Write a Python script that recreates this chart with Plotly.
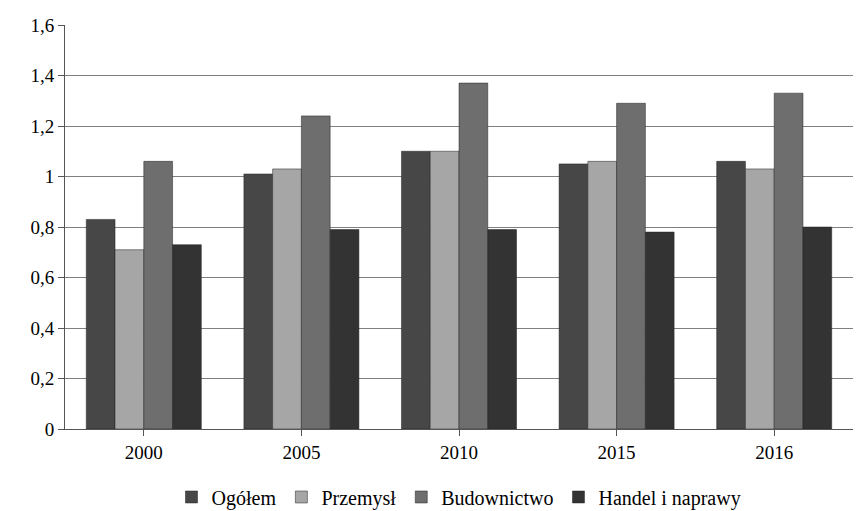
import plotly.graph_objects as go

years = ["2000", "2005", "2010", "2015", "2016"]
ogolem = [0.83, 1.01, 1.10, 1.05, 1.06]
przemysl = [0.71, 1.03, 1.10, 1.06, 1.03]
budownictwo = [1.06, 1.24, 1.37, 1.29, 1.33]
handel = [0.73, 0.79, 0.79, 0.78, 0.80]

series = [
    ("Ogółem", ogolem, "#474747"),
    ("Przemysł", przemysl, "#a6a6a6"),
    ("Budownictwo", budownictwo, "#6e6e6e"),
    ("Handel i naprawy", handel, "#333333"),
]

fig = go.Figure()
for name, vals, col in series:
    fig.add_trace(go.Bar(
        x=years, y=vals, name=name,
        marker=dict(color=col, line=dict(color="#222222", width=0.5)),
    ))

fig.update_layout(
    width=861, height=511,
    margin=dict(l=57, r=16, t=17, b=90, autoexpand=False),
    paper_bgcolor="white", plot_bgcolor="white",
    font=dict(family="Liberation Serif, Times New Roman, serif", size=19, color="black"),
    barmode="group", bargap=0.27, bargroupgap=0.0,
    showlegend=True,
    legend=dict(orientation="h", x=0.5, xanchor="center", y=-0.12, yanchor="top",
                font=dict(size=20)),
    xaxis=dict(showline=True, linecolor="#555555", ticks="outside", ticklen=6,
               tickcolor="#555555", showgrid=False),
    yaxis=dict(range=[0, 1.6], showgrid=True, gridcolor="#808080", gridwidth=1,
               showline=True, linecolor="#555555", ticks="outside", ticklen=6,
               tickcolor="#555555", zeroline=False),
)
fig.update_yaxes(tickvals=[0, 0.2, 0.4, 0.6, 0.8, 1.0, 1.2, 1.4, 1.6],
                 ticktext=["0", "0,2", "0,4", "0,6", "0,8", "1", "1,2", "1,4", "1,6"])

fig.write_html("out.html")
